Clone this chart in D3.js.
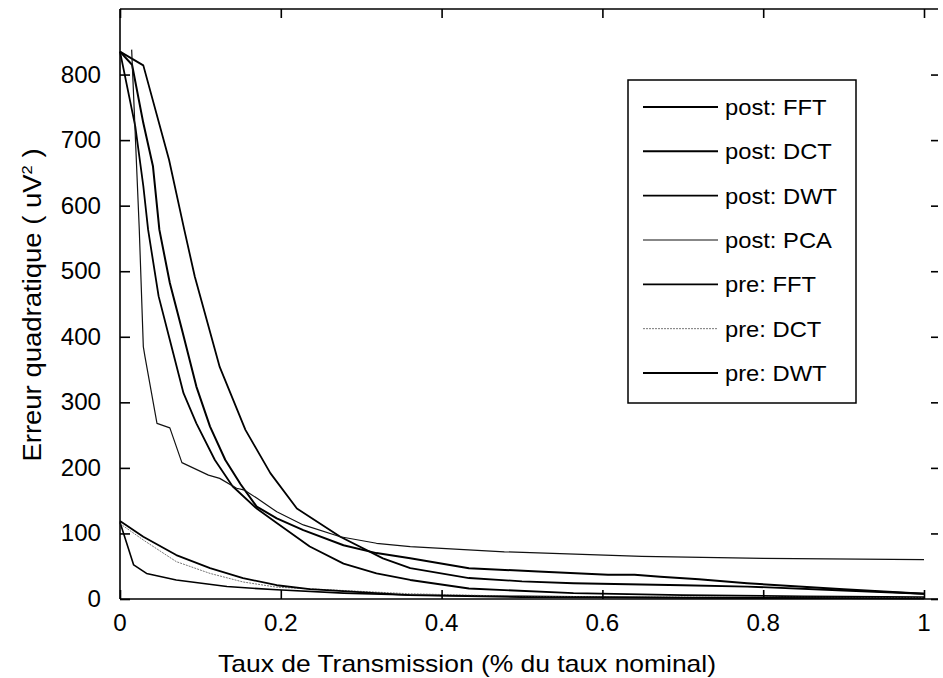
<!DOCTYPE html>
<html>
<head>
<meta charset="utf-8">
<script src="https://cdn.jsdelivr.net/npm/d3@7"></script>
<style>
  html, body { margin: 0; padding: 0; background: #fff; }
  svg { display: block; }
  text { font-family: "Liberation Sans", Arial, Helvetica, sans-serif; fill: #000; }
</style>
</head>
<body>
<svg id="chart" width="943" height="678"></svg>
<script>
// ---------------- DATA ----------------
const xTicks = [0, 0.2, 0.4, 0.6, 0.8, 1];
const xTickLabels = ["0", "0.2", "0.4", "0.6", "0.8", "1"];
const yTicks = [0, 100, 200, 300, 400, 500, 600, 700, 800];
const yTickLabels = ["0", "100", "200", "300", "400", "500", "600", "700", "800"];

const seriesNames = ["post: FFT", "post: DCT", "post: DWT", "post: PCA", "pre: FFT", "pre: DCT", "pre: DWT"];

const postFFT_x = [0, 0.029, 0.061, 0.080, 0.093, 0.124, 0.156, 0.187, 0.220, 0.274, 0.327, 0.361, 0.434, 0.5, 0.564, 0.7, 0.78, 0.9, 1];
const postFFT_y = [835, 814, 670, 563, 492, 354, 258, 192, 138, 95, 62, 47, 32, 27, 24, 21, 19, 13, 8];

const postDCT_x = [0, 0.015, 0.029, 0.041, 0.049, 0.062, 0.077, 0.095, 0.112, 0.131, 0.15, 0.17, 0.195, 0.228, 0.278, 0.319, 0.361, 0.434, 0.52, 0.607, 0.64, 0.672, 0.72, 0.78, 0.9, 1];
const postDCT_y = [835, 815, 726, 660, 563, 482, 411, 324, 263, 212, 175, 141, 123, 105, 82, 70, 62, 47, 42, 37, 37, 34, 30, 24, 15, 8];

const postDWT_x = [0, 0.019, 0.029, 0.035, 0.048, 0.062, 0.079, 0.095, 0.118, 0.14, 0.17, 0.195, 0.236, 0.278, 0.319, 0.361, 0.434, 0.564, 0.7, 0.85, 1];
const postDWT_y = [835, 721, 630, 563, 462, 395, 314, 268, 212, 172, 138, 116, 80, 54, 39, 29, 16, 9, 6, 4, 3];

const postPCA_x = [0.0145, 0.024, 0.029, 0.031, 0.046, 0.062, 0.077, 0.11, 0.124, 0.145, 0.155, 0.17, 0.195, 0.228, 0.274, 0.319, 0.361, 0.478, 0.649, 0.8, 1];
const postPCA_y = [838, 563, 385, 370, 268, 261, 208, 189, 184, 169, 166, 154, 133, 113, 95, 85, 80, 72, 65, 62, 60];

const preFFT_x = [0, 0.017, 0.033, 0.07, 0.133, 0.195, 0.278, 0.36, 0.5, 0.7, 1];
const preFFT_y = [117, 52, 39, 29, 19, 14, 9, 6, 4, 2, 1];

const preDCT_x = [0, 0.029, 0.07, 0.112, 0.153, 0.195, 0.36, 0.5, 0.7, 1];
const preDCT_y = [115, 90, 57, 39, 26, 18, 8, 4, 3, 2];

const preDWT_x = [0, 0.029, 0.07, 0.112, 0.153, 0.195, 0.236, 0.36, 0.5, 0.7, 1];
const preDWT_y = [119, 95, 67, 47, 32, 21, 15, 6, 3, 2, 1];

// ---------------- BUILD ----------------
const seriesX = [postFFT_x, postDCT_x, postDWT_x, postPCA_x, preFFT_x, preDCT_x, preDWT_x];
const seriesY = [postFFT_y, postDCT_y, postDWT_y, postPCA_y, preFFT_y, preDCT_y, preDWT_y];
const styles = [
  {w: 1.8, c: "#000", d: null},
  {w: 2.0, c: "#000", d: null},
  {w: 1.8, c: "#000", d: null},
  {w: 1.2, c: "#111", d: null},
  {w: 1.6, c: "#000", d: null},
  {w: 1.0, c: "#777", d: "2,1"},
  {w: 1.8, c: "#000", d: null}
];
const series = seriesNames.map((name, i) => ({
  name, style: styles[i],
  values: seriesX[i].map((x, j) => ({x, y: seriesY[i][j]}))
}));

const svg = d3.select("#chart");
const L = 120, R = 938, T = 9, B = 599;
const x = d3.scaleLinear().domain([0, 1]).range([L, 924]);
const y = d3.scaleLinear().domain([0, 900]).range([B, T]);

function stext(g, px, py, str, anchor, size, sx) {
  return g.append("text")
    .attr("transform", `translate(${px},${py}) scale(${sx},1)`)
    .attr("text-anchor", anchor)
    .style("font-size", size + "px")
    .text(str);
}

// lines
const line = d3.line().x(d => x(d.x)).y(d => y(d.y));
const gLines = svg.append("g");
series.forEach(s => {
  gLines.append("path")
    .datum(s.values)
    .attr("d", line)
    .attr("fill", "none")
    .attr("stroke", s.style.c)
    .attr("stroke-width", s.style.w)
    .attr("stroke-dasharray", s.style.d)
    .attr("stroke-linejoin", "round");
});

// axes frame
const frame = svg.append("g").attr("stroke", "#000").attr("stroke-width", 1.6);
frame.append("line").attr("x1", L).attr("x2", L).attr("y1", T).attr("y2", B);
frame.append("line").attr("x1", L).attr("x2", R).attr("y1", B).attr("y2", B);
frame.append("line").attr("x1", L).attr("x2", R).attr("y1", T).attr("y2", T);

// ticks using d3 axes (inward)
const axB = d3.axisBottom(x).tickValues(xTicks).tickSize(-9).tickFormat(() => "");
const axT = d3.axisTop(x).tickValues(xTicks).tickSize(-9).tickFormat(() => "");
const axL = d3.axisLeft(y).tickValues(yTicks).tickSize(-10).tickFormat(() => "");
const axR = d3.axisRight(y).tickValues(yTicks).tickSize(-7).tickFormat(() => "");
[[axB, `translate(0,${B})`], [axT, `translate(0,${T})`], [axL, `translate(${L},0)`], [axR, `translate(${R},0)`]].forEach(([ax, tr]) => {
  const g = svg.append("g").attr("transform", tr).call(ax);
  g.select(".domain").remove();
  g.selectAll(".tick line").attr("stroke", "#000").attr("stroke-width", 1.6);
});

// tick labels
const gl = svg.append("g");
xTicks.forEach((v, i) => stext(gl, x(v), 631, xTickLabels[i], "middle", 23, 1.05));
yTicks.forEach((v, i) => stext(gl, 101, y(v) + 8, yTickLabels[i], "end", 23, 1.05));

// axis titles
stext(gl, 467, 672, "Taux de Transmission (% du taux nominal)", "middle", 23, 1.15);
const yl = gl.append("text")
  .attr("transform", `translate(41,305) rotate(-90) scale(1.1,1)`)
  .attr("text-anchor", "middle")
  .style("font-size", "25px");
yl.append("tspan").text("Erreur quadratique ( uV");
yl.append("tspan").attr("dy", -9).style("font-size", "15px").text("2");
yl.append("tspan").attr("dy", 9).text(" )");

// legend
const lg = svg.append("g");
lg.append("rect").attr("x", 628).attr("y", 80).attr("width", 228).attr("height", 323)
  .attr("fill", "#fff").attr("stroke", "#000").attr("stroke-width", 1.5);
const rowY = d3.scaleLinear().domain([0, 6]).range([107, 373]);
series.forEach((s, i) => {
  const yy = rowY(i);
  lg.append("line").attr("x1", 643).attr("x2", 718).attr("y1", yy).attr("y2", yy)
    .attr("stroke", s.style.c).attr("stroke-width", s.style.w).attr("stroke-dasharray", s.style.d);
  stext(lg, 725, yy + 8, s.name, "start", 22, 1.08);
});
</script>
</body>
</html>
